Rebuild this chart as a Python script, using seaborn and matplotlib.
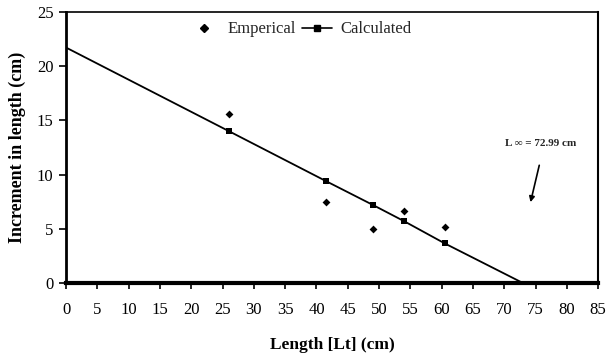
import matplotlib
matplotlib.use("Agg")
import matplotlib.pyplot as plt
import seaborn as sns
import pandas as pd
from matplotlib.lines import Line2D

# Data
lengths = [26, 41.5, 49, 54, 60.5]
empirical = [15.55, 7.45, 5.0, 6.65, 5.2]
calculated = [14.0, 9.4, 7.2, 5.7, 3.65]
line_x = [0, 26, 41.5, 49, 54, 60.5, 72.99]
line_y = [21.7, 14.0, 9.4, 7.2, 5.7, 3.65, 0]
x_ticks = list(range(0, 90, 5))
y_ticks = list(range(0, 30, 5))

sns.set_theme(style="white")
plt.rcParams['font.family'] = ['Liberation Serif', 'DejaVu Serif']

fig = plt.figure(figsize=(6.06, 3.56), dpi=100)
ax = fig.add_axes([0.109, 0.205, 0.878, 0.762])

df_emp = pd.DataFrame({"x": lengths, "y": empirical})
df_line = pd.DataFrame({"x": line_x, "y": line_y})
df_calc = pd.DataFrame({"x": lengths, "y": calculated})

sns.lineplot(data=df_line, x="x", y="y", ax=ax, color="black", lw=1.3, legend=False)
sns.scatterplot(data=df_emp, x="x", y="y", ax=ax, marker="D", s=16, color="black",
                edgecolor="black", linewidth=0, legend=False)
sns.scatterplot(data=df_calc, x="x", y="y", ax=ax, marker="s", s=24, color="black",
                edgecolor="black", linewidth=0, legend=False)

h1 = Line2D([], [], color="black", marker="D", markersize=3.8, linestyle="none")
h2 = Line2D([], [], color="black", marker="s", markersize=4.5, linestyle="-", lw=1.2)
ax.legend([h1, h2], ["Emperical", "Calculated"], loc="center", bbox_to_anchor=(0.44, 0.935),
          ncol=2, frameon=False, fontsize=12, handlelength=1.8, columnspacing=0.4,
          handletextpad=0.5, borderpad=0)

ax.set_xlim(0, 85)
ax.set_ylim(0, 25)
ax.set_xticks(x_ticks)
ax.set_yticks(y_ticks)
ax.tick_params(axis="x", labelsize=12, direction="out", length=4, width=1.2,
               color="black", labelcolor="black", bottom=True, pad=10)
ax.tick_params(axis="y", labelsize=12, direction="out", length=5, width=1.2,
               color="black", labelcolor="black", left=True, pad=4)
ax.spines["top"].set_linewidth(1.2)
ax.spines["right"].set_linewidth(1.5)
ax.spines["left"].set_linewidth(2.0)
ax.spines["bottom"].set_linewidth(3.0)
for s in ax.spines.values():
    s.set_color("black")

ax.set_xlabel("Length [Lt] (cm)", fontsize=12.5, fontweight="bold", labelpad=13, color="black")
ax.set_ylabel("Increment in length (cm)", fontsize=13, fontweight="bold", labelpad=8, color="black")

ax.annotate("", xy=(74.1, 7.2), xytext=(75.7, 11.1),
            arrowprops=dict(arrowstyle="-|>", color="black", lw=1.2, mutation_scale=8))
ax.text(75.8, 12.9, "L \u221e = 72.99 cm", fontsize=8, fontweight="bold", ha="center", va="center")

fig.savefig("out.png", dpi=100)
